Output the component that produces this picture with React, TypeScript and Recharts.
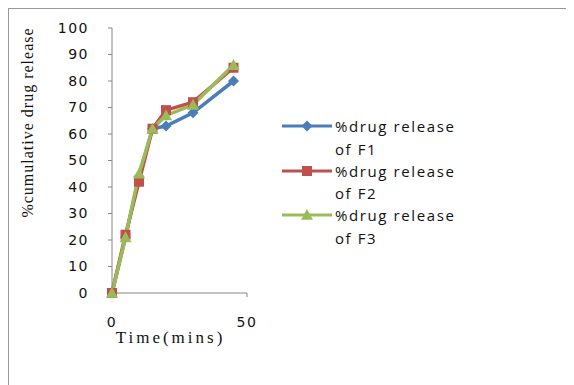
import { LineChart, Line, XAxis, YAxis, Legend } from 'recharts';

const times = [0, 5, 10, 15, 20, 30, 45];
const f1 = [0, 21, 44, 62, 63, 68, 80];
const f2 = [0, 22, 42, 62, 69, 72, 85];
const f3 = [0, 21, 45, 62, 67, 71, 86];
const xTicks = [0, 50];
const yTicks = [0, 10, 20, 30, 40, 50, 60, 70, 80, 90, 100];

const series = [
  { key: 'f1', name: '%drug release of F1', color: '#4A7EBB', shape: 'diamond' },
  { key: 'f2', name: '%drug release of F2', color: '#C0504D', shape: 'square' },
  { key: 'f3', name: '%drug release of F3', color: '#9BBB59', shape: 'triangle' },
];

const data = times.map((t, i) => ({ t, f1: f1[i], f2: f2[i], f3: f3[i] }));

function Marker({ shape, cx, cy, color }: any) {
  if (shape === 'diamond') {
    const r = 5.5;
    return <polygon points={`${cx},${cy - r} ${cx + r},${cy} ${cx},${cy + r} ${cx - r},${cy}`} fill={color} />;
  }
  if (shape === 'square') {
    const r = 5;
    return <rect x={cx - r} y={cy - r} width={2 * r} height={2 * r} fill={color} />;
  }
  const r = 6;
  return <polygon points={`${cx},${cy - r} ${cx + r},${cy + r * 0.8} ${cx - r},${cy + r * 0.8}`} fill={color} />;
}

const makeDot = (shape: string, color: string) => (p: any) => (
  <Marker key={`${shape}-${p.index}`} shape={shape} cx={p.cx} cy={p.cy} color={color} />
);

const LegendBox = () => (
  <div style={{ fontFamily: '"Open Sans", sans-serif', fontSize: 15, letterSpacing: 1.6, color: '#111' }}>
    {series.map((s) => {
      const [first, rest] = s.name.split(' of ');
      return (
        <div key={s.key} style={{ display: 'flex', alignItems: 'flex-start', height: 44.5 }}>
          <svg width={50} height={22} style={{ flexShrink: 0 }}>
            <line x1={0} y1={11} x2={50} y2={11} stroke={s.color} strokeWidth={3} />
            <Marker shape={s.shape} cx={25} cy={11} color={s.color} />
          </svg>
          <div style={{ marginLeft: 3, lineHeight: '22.5px', whiteSpace: 'nowrap' }}>
            <div>{first}</div>
            <div>of {rest}</div>
          </div>
        </div>
      );
    })}
  </div>
);

const yTitle = (props: any) => {
  const vb = props.viewBox || {};
  const x = vb.x - 25;
  const y = vb.y + vb.height / 2 - 38;
  return (
    <text
      x={x}
      y={y}
      transform={`rotate(-90, ${x}, ${y})`}
      textAnchor="middle"
      dominantBaseline="central"
      fontFamily="Liberation Serif, serif"
      fontSize={16}
      letterSpacing={1}
      fill="#111"
    >
      %cumulative drug release
    </text>
  );
};

export default function App() {
  return (
    <div
      style={{
        width: 564,
        height: 377,
        border: '1px solid #999',
        borderBottom: 'none',
        background: '#fff',
      }}
    >
      <LineChart width={564} height={376} data={data} margin={{ top: 19, right: 326, bottom: 32, left: 43 }}>
        <XAxis
          dataKey="t"
          type="number"
          domain={[0, 50]}
          ticks={xTicks}
          height={60}
          stroke="#868686"
          tickSize={4}
          tickMargin={20}
          tick={{ fill: '#111', fontFamily: '"DejaVu Sans", sans-serif', fontSize: 14, letterSpacing: 1.5 }}
          label={{
            value: 'Time(mins)',
            position: 'insideTop',
            offset: 38,
            dx: -9,
            fill: '#111',
            fontFamily: 'Liberation Serif, serif',
            fontSize: 17,
            letterSpacing: 3,
          }}
        />
        <YAxis
          type="number"
          domain={[0, 100]}
          ticks={yTicks}
          width={60}
          stroke="#868686"
          tickSize={4}
          tickMargin={19}
          tick={{ fill: '#111', fontFamily: '"DejaVu Sans", sans-serif', fontSize: 14, letterSpacing: 1.5 }}
          label={yTitle}
        />
        <Legend
          layout="vertical"
          align="center"
          verticalAlign="middle"
          content={<LegendBox />}
          wrapperStyle={{ left: 273, top: 106, width: 220 }}
        />
        {series.map((s) => (
          <Line
            key={s.key}
            dataKey={s.key}
            name={s.name}
            stroke={s.color}
            strokeWidth={3.5}
            dot={makeDot(s.shape, s.color)}
            activeDot={false}
            isAnimationActive={false}
          />
        ))}
      </LineChart>
    </div>
  );
}
